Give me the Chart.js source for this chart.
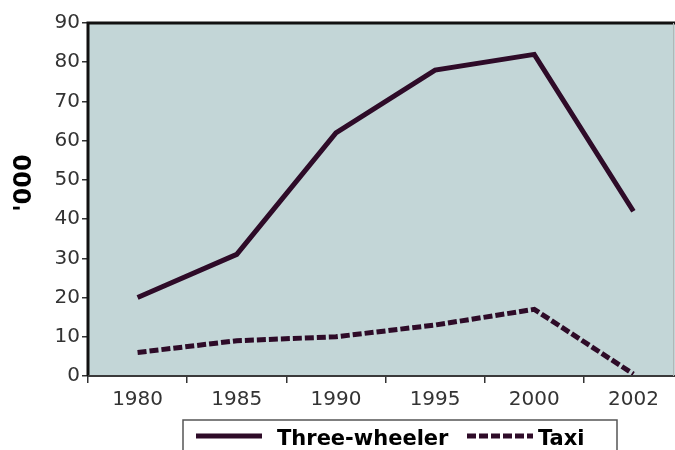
<!DOCTYPE html>
<html>
<head>
<meta charset="utf-8">
<script src="https://cdn.jsdelivr.net/npm/chart.js@4"></script>
<style>
  html, body { margin: 0; padding: 0; background: #fff; }
  #wrap { width: 675px; height: 450px; overflow: hidden; }
  #inner { width: 683px; height: 450px; }
</style>
</head>
<body>
<div id="wrap"><div id="inner"><canvas id="lineChart"></canvas></div></div>
<script>
// ==============================
// Data
// ==============================

const years = ["1980", "1985", "1990", "1995", "2000", "2002"];

const threeWheeler = [20, 31, 62, 78, 82, 42];

const taxi = [6, 9, 10, 13, 17, 0.5];

const yTicks = [0, 10, 20, 30, 40, 50, 60, 70, 80, 90];

const yTitle = "'000";

const lineColor = "#2e0b28";

const font = "'DejaVu Sans', Verdana, sans-serif";

// ==============================
// Plot background, borders, title, legend
// ==============================

const decor = {

    id: "decor",

    beforeDatasetsDraw(chart) {

        const { ctx, chartArea: a } = chart;

        ctx.save();
        ctx.fillStyle = "#c3d6d7";
        ctx.fillRect(a.left, a.top, a.right - a.left, a.bottom - a.top);
        ctx.restore();

    },

    afterDraw(chart) {

        const { ctx, chartArea: a } = chart;

        ctx.save();

        // frame
        ctx.strokeStyle = "#111";
        ctx.lineWidth = 3;
        ctx.beginPath();
        ctx.moveTo(a.left, a.bottom);
        ctx.lineTo(a.left, a.top);
        ctx.lineTo(a.right, a.top);
        ctx.stroke();

        ctx.strokeStyle = "#3a3a3a";
        ctx.lineWidth = 2;
        ctx.beginPath();
        ctx.moveTo(a.left, a.bottom);
        ctx.lineTo(a.right, a.bottom);
        ctx.stroke();

        ctx.strokeStyle = "#b0b8b8";
        ctx.lineWidth = 1;
        ctx.beginPath();
        ctx.moveTo(673.5, a.top);
        ctx.lineTo(673.5, a.bottom);
        ctx.stroke();

        // y title
        ctx.save();
        ctx.translate(25, 183);
        ctx.rotate(-Math.PI / 2);
        ctx.fillStyle = "#000";
        ctx.font = "bold 24px " + font;
        ctx.textAlign = "center";
        ctx.textBaseline = "middle";
        ctx.fillText(yTitle, 0, 0);
        ctx.restore();

        // legend box
        ctx.strokeStyle = "#555";
        ctx.lineWidth = 1.5;
        ctx.strokeRect(183, 420, 434, 40);

        const ds = chart.data.datasets;
        const ly = 436;

        ctx.strokeStyle = ds[0].borderColor;
        ctx.lineWidth = 5;
        ctx.setLineDash([]);
        ctx.beginPath();
        ctx.moveTo(196, ly);
        ctx.lineTo(262, ly);
        ctx.stroke();

        ctx.setLineDash(ds[1].borderDash);
        ctx.beginPath();
        ctx.moveTo(467, ly);
        ctx.lineTo(533, ly);
        ctx.stroke();
        ctx.setLineDash([]);

        ctx.fillStyle = "#000";
        ctx.font = "bold 21px " + font;
        ctx.textBaseline = "alphabetic";
        ctx.fillText(ds[0].label, 277, 445);
        ctx.fillText(ds[1].label, 538, 445);

        ctx.restore();

    }

};

// ==============================
// Chart
// ==============================

const ctx = document.getElementById("lineChart").getContext("2d");

new Chart(ctx, {

    type: "line",

    data: {

        labels: years,

        datasets: [

            {
                label: "Three-wheeler",
                data: threeWheeler,
                borderColor: lineColor,
                borderWidth: 5,
                pointRadius: 0,
                tension: 0
            },

            {
                label: "Taxi",
                data: taxi,
                borderColor: lineColor,
                borderWidth: 5,
                borderDash: [9, 3],
                pointRadius: 0,
                tension: 0
            }

        ]

    },

    options: {

        responsive: true,
        maintainAspectRatio: false,
        animation: false,

        layout: {
            padding: { top: 23, right: 0, left: 0, bottom: 0 }
        },

        plugins: {
            legend: { display: false },
            tooltip: { enabled: false }
        },

        scales: {

            x: {
                offset: true,
                border: { display: false },
                grid: {
                    offset: true,
                    drawOnChartArea: false,
                    drawTicks: true,
                    tickLength: 7,
                    color: "#333",
                    lineWidth: 1.5
                },
                ticks: {
                    color: "#333",
                    padding: 5,
                    font: { family: font, size: 20 }
                },
                afterFit(scale) {
                    scale.height = 74;
                }
            },

            y: {
                min: 0,
                max: 90,
                border: { display: false },
                afterBuildTicks(scale) {
                    scale.ticks = yTicks.map(v => ({ value: v }));
                },
                grid: {
                    drawOnChartArea: false,
                    drawTicks: true,
                    tickLength: 6,
                    color: "#333",
                    lineWidth: 1.5
                },
                ticks: {
                    color: "#333",
                    padding: 2,
                    font: { family: font, size: 20 }
                },
                afterFit(scale) {
                    scale.width = 88;
                }
            }

        }

    },

    plugins: [decor]

});
</script>
</body>
</html>
